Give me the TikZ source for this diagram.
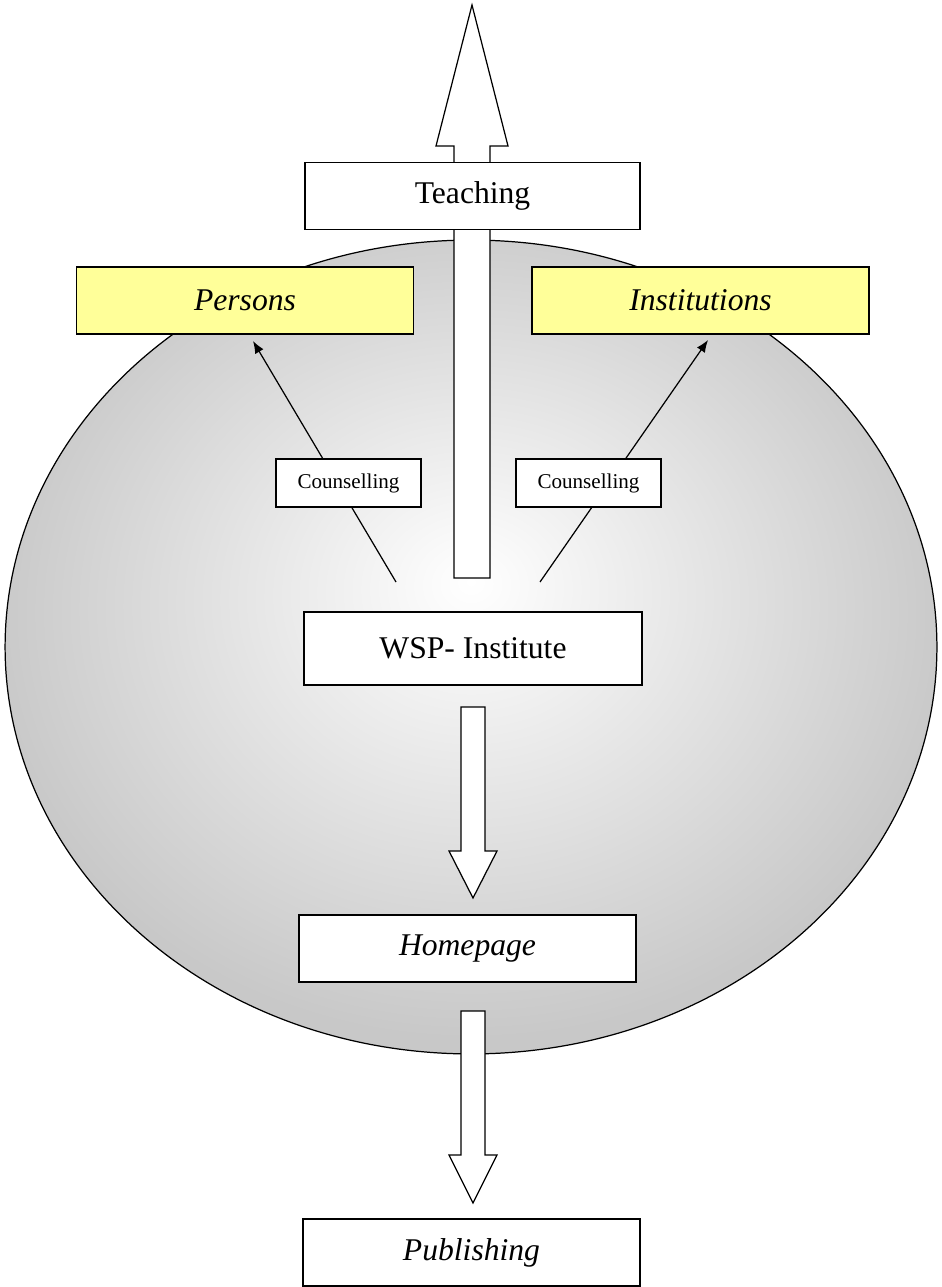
\documentclass[tikz,border=0pt]{standalone}
\usepackage{fontspec}
\setmainfont{Liberation Serif}
\usetikzlibrary{arrows.meta}
\definecolor{ellgray}{RGB}{200,200,200}
\definecolor{noteyellow}{RGB}{255,255,153}
\pgfdeclareradialshading{ellshade}{\pgfpoint{0bp}{4bp}}{color(0bp)=(white); color(26bp)=(ellgray); color(50bp)=(ellgray)}
\begin{document}
\begin{tikzpicture}[x=0.02cm, y=-0.02cm, line width=0.7pt]
\tikzstyle{box}=[draw, fill=white, inner sep=0pt, minimum width=6.74cm, minimum height=1.34cm, font=\fontsize{18}{22}\selectfont]
\tikzstyle{target}=[box, fill=noteyellow, font=\fontsize{18}{22}\selectfont\itshape]
\tikzstyle{small}=[draw, fill=white, inner sep=0pt, minimum width=2.9cm, minimum height=0.96cm, font=\fontsize{12}{14}\selectfont]
\tikzstyle{blockarrow}=[draw, fill=white, line join=miter]
\tikzstyle{advice}=[-{Latex[length=7pt, width=5.5pt]}]
    \useasboundingbox (0,0) rectangle (942,1287);
    % field of the institute
    \shade[shading=ellshade, draw] (471,647) ellipse [x radius=9.32cm, y radius=8.14cm];
    % teaching goes out
    \draw[blockarrow] (454,578) -- (454,146) -- (436,146) -- (472,5) -- (508,146) -- (490,146) -- (490,578) -- cycle;
    \node [box, minimum width=6.7cm] (teach) at (472.5,196) {Teaching};
    \node [target] (pers) at (245,300.5) {Persons};
    \node [target] (inst) at (700.5,300.5) {Institutions};
    \node [box, minimum width=6.76cm, minimum height=1.46cm] (wsp) at (473,648.5) {WSP- Institute};
    \node [box, font=\fontsize{18}{22}\selectfont\itshape] (home) at (467.5,948.5) {Homepage};
    \node [box, font=\fontsize{18}{22}\selectfont\itshape] (pub) at (471.5,1252.5) {Publishing};
    % counselling
    \coordinate (wl) at (396,582);
    \coordinate (wr) at (540,582);
    \coordinate (pl) at (253,341);
    \coordinate (pr) at (708,340);
    \draw[advice] (wl) -- (pl);
    \draw[advice] (wr) -- (pr);
    \node [small] (csl) at (348.5,483) {Counselling};
    \node [small] (csr) at (588.5,483) {Counselling};
    % down to homepage and publishing
    \draw[blockarrow] (461,707) -- (461,851) -- (449,851) -- (473,898) -- (497,851) -- (485,851) -- (485,707) -- cycle;
    \draw[blockarrow] (461,1011) -- (461,1155) -- (449,1155) -- (473,1203) -- (497,1155) -- (485,1155) -- (485,1011) -- cycle;
\end{tikzpicture}
\end{document}
